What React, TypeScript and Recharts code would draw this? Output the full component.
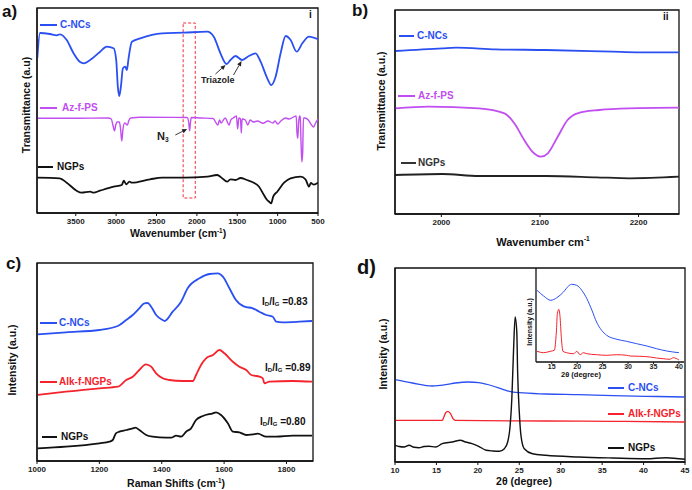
import React from 'react';
import { LineChart, Line, XAxis, YAxis, ReferenceArea, ReferenceLine } from 'recharts';

const FONT = "'Liberation Sans', Arial, Helvetica, sans-serif";
const BLUE = '#2b50f2';
const PURPLE = '#c14ef0';
const RED = '#f4232c';
const BLACK = '#111111';

type Pt = [number, number];

// a) FTIR, wavenumber vs transmittance (a.u.)
const A_CNCS: Pt[] = [
  [3976, 155], [3943, 180], [3819, 179], [3736, 177.7], [3695, 178.7], [3612, 173], [3529, 160],
  [3446, 151], [3405, 149.7], [3322, 153], [3198, 161.3], [3115, 166.3], [3032, 164.7], [2999, 153],
  [2979, 126.3], [2962, 117], [2941, 126.3], [2916, 144.7], [2887, 146.3], [2867, 143], [2846, 154.7],
  [2805, 171.3], [2701, 174.7], [2432, 179.7], [2163, 180.3], [1873, 181.3], [1791, 176.3], [1708, 159.7],
  [1633, 149], [1584, 153], [1522, 157], [1439, 153], [1356, 157], [1273, 159.7], [1211, 151.3],
  [1128, 134.7], [1079, 128], [1025, 136.3], [963, 159.7], [900, 177], [839, 173], [764, 161.3],
  [694, 169.7], [611, 176.3], [500, 173.7],
];
const A_AZPS: Pt[] = [
  [3976, 94.7], [3500, 94.7], [3100, 95], [3060, 94], [3040, 88], [3020, 82], [3005, 88], [2990, 91],
  [2960, 91], [2945, 84], [2930, 72], [2915, 84], [2895, 90], [2860, 88], [2845, 92], [2820, 95],
  [2700, 95.7], [2120, 95.5], [2100, 90], [2090, 82.3], [2080, 90], [2070, 95.5], [1950, 95],
  [1800, 94.5], [1740, 88], [1720, 93], [1700, 90], [1650, 95], [1600, 88], [1580, 93], [1550, 95],
  [1510, 97], [1495, 84], [1480, 95], [1460, 94], [1450, 80], [1440, 94], [1400, 93], [1370, 88],
  [1340, 93], [1300, 91], [1250, 92], [1180, 89.7], [1120, 92], [1060, 90], [1030, 92], [1000, 89],
  [960, 92], [900, 95], [860, 94], [770, 97], [760, 80], [750, 74.7], [740, 90], [730, 97], [720, 96],
  [710, 70], [700, 51], [690, 60], [680, 95], [660, 95], [620, 93], [580, 88], [555, 86], [530, 90],
  [500, 94],
];
const A_NGPS: Pt[] = [
  [3976, 35.3], [3700, 34.7], [3612, 30.3], [3490, 22.3], [3430, 20.3], [3320, 21.3], [3280, 20.3],
  [3200, 22.3], [3030, 26.3], [2930, 28], [2905, 32.3], [2875, 28.7], [2835, 31.3], [2805, 30.3],
  [2580, 33.7], [2430, 35.3], [2160, 35.3], [1870, 36.3], [1750, 38], [1710, 36.3], [1625, 31.3],
  [1585, 33.7], [1520, 33], [1460, 35], [1380, 33], [1295, 30.3], [1230, 26.3], [1170, 18], [1130, 13],
  [1105, 11.3], [1080, 9.7], [1055, 16.3], [1005, 21.3], [920, 30.3], [840, 34.7], [715, 36.3],
  [655, 33.7], [610, 26.3], [590, 30], [550, 28.3], [500, 30.3],
];
const A_TICKS = [3500, 3000, 2500, 2000, 1500, 1000, 500];

// b) FTIR zoom around the azide band
const B_CNCS: Pt[] = [
  [1953, 163], [2001, 165.7], [2015, 166.3], [2055, 164.7], [2106, 164], [2174, 162.3], [2198, 161.7], [2241, 161.7],
];
const B_AZPS: Pt[] = [
  [1953, 105.7], [1987, 107.3], [2038, 105.7], [2064, 100.7], [2074, 90.7], [2084, 74], [2094, 60.7],
  [2101, 57.3], [2108, 60.7], [2118, 77.3], [2128, 94], [2138, 100.7], [2160, 104], [2190, 105.7], [2241, 106.3],
];
const B_NGPS: Pt[] = [
  [1953, 39], [2001, 40], [2038, 38], [2106, 38], [2157, 36.7], [2191, 35.7], [2241, 37.3],
];
const B_TICKS = [2000, 2100, 2200];

// c) Raman
const C_CNCS: Pt[] = [
  [1002, 126.7], [1093, 128.7], [1200, 131], [1259, 135], [1286, 141], [1307, 146], [1328, 152.7],
  [1344, 157.7], [1355, 158], [1366, 154.3], [1382, 146], [1403, 141], [1409, 140], [1435, 149.3],
  [1462, 159.3], [1483, 172.7], [1521, 182.7], [1553, 187], [1580, 187.7], [1596, 184.3], [1617, 172.7],
  [1638, 161], [1665, 154.3], [1692, 152.7], [1713, 149.3], [1735, 146], [1756, 144.3], [1767, 139.3],
  [1788, 138.7], [1842, 139.3], [1882, 140],
];
const C_ALK: Pt[] = [
  [1002, 66], [1093, 69.3], [1200, 72.7], [1259, 74.3], [1286, 81], [1307, 84.3], [1328, 91], [1349, 96.7],
  [1366, 94.3], [1382, 87.7], [1403, 82.7], [1424, 81], [1467, 80], [1500, 80], [1510, 86], [1526, 96],
  [1542, 102.7], [1564, 106], [1585, 111], [1601, 107.7], [1628, 99.3], [1649, 94.3], [1671, 91],
  [1687, 86], [1697, 85.3], [1713, 84.3], [1724, 82.7], [1729, 77.7], [1745, 79.3], [1820, 80], [1882, 79.3],
];
const C_NGPS: Pt[] = [
  [1002, 12.7], [1093, 14.3], [1200, 17.7], [1232, 19.3], [1243, 21], [1253, 27.7], [1264, 29.3],
  [1286, 31], [1307, 32.7], [1316, 33.3], [1328, 31], [1350, 26], [1371, 24.3], [1414, 23.3], [1430, 23.3],
  [1446, 25.3], [1462, 24.3], [1478, 29.3], [1494, 32.7], [1510, 41], [1532, 45], [1564, 47.7], [1574, 48.7],
  [1590, 46], [1612, 37.7], [1628, 29.3], [1649, 28.7], [1671, 26], [1692, 26.7], [1708, 27.3], [1735, 24.3],
  [1767, 24.3], [1820, 25.3], [1882, 25.3],
];
const C_TICKS = [1000, 1200, 1400, 1600, 1800];

// d) XRD
const D_CNCS: Pt[] = [
  [10, 82.3], [12.1, 79], [14.5, 76], [16.1, 77.3], [17.3, 79], [18.9, 80], [20.1, 79.3], [21.8, 76],
  [23, 72.7], [23.8, 70.7], [25, 69.3], [28.2, 68], [32.2, 67.3], [36.3, 66.3], [40.3, 65.7], [45, 65],
];
const D_ALK: Pt[] = [
  [10, 41.7], [15.7, 41.7], [15.9, 45], [16.1, 49], [16.4, 50.7], [16.7, 48.3], [17, 43.3], [17.3, 41.7],
  [28.2, 41], [36.3, 40.7], [45, 40],
];
const D_NGPS: Pt[] = [
  [10, 16.7], [10.5, 15.5], [11.1, 15], [11.7, 16.7], [12.3, 14.7], [12.9, 14.3], [13.5, 15.5], [14.1, 15.7],
  [14.9, 15], [15.7, 18.3], [16.9, 20], [17.9, 21.7], [18.5, 20], [19.3, 18.3], [20.1, 15.7], [21, 11.7],
  [21.8, 11], [22.6, 10.7], [23.2, 13.3], [23.6, 20], [23.9, 36.7], [24.1, 63.3], [24.3, 110], [24.5, 145],
  [24.7, 130], [24.8, 90], [25, 50], [25.2, 26.7], [25.6, 13.3], [26.6, 8.3], [28.2, 6.7], [32.2, 5],
  [36.3, 4], [40.3, 3.3], [42.7, 4.3], [45, 2.7],
];
const D_TICKS = [10, 15, 20, 25, 30, 35, 40, 45];

// d) inset
const I_CNCS: Pt[] = [
  [12.1, 71.7], [13.4, 66], [14.8, 61.7], [16, 64.3], [17.3, 70], [18.3, 76], [18.9, 77.7], [19.9, 76.7],
  [20.9, 71.7], [21.9, 63.3], [22.9, 51.7], [23.8, 40], [24.8, 31.7], [25.8, 26.7], [27.8, 22.7],
  [29.7, 20.7], [31.7, 18.3], [33.7, 16], [35.6, 13.3], [37.6, 11], [40, 9.3],
];
const I_ALK: Pt[] = [
  [12.1, 10.7], [13.4, 9.3], [14.7, 10.7], [15.5, 11.7], [15.9, 30], [16.1, 48.3], [16.4, 52.7],
  [16.6, 46.7], [16.9, 23.3], [17.2, 10.7], [17.9, 9.3], [19.3, 8.3], [19.9, 10.7], [20.6, 7.3],
  [21.2, 9.3], [21.9, 8.3], [23.8, 7.3], [25.8, 6.7], [27.8, 7.3], [29.7, 6.7], [30.4, 6], [32.3, 5.7],
  [34.3, 5], [35.6, 4], [36.9, 3.3], [38.2, 2.7], [38.9, 4.3], [40, 2],
];
const I_TICKS = [15, 20, 25, 30, 35, 40];

const toRows = (pts: Pt[]) => pts.map(([x, y]) => ({ x, y }));

type Series = { pts: Pt[]; color: string; w?: number };

const Arrow = (p: any) => {
  const { x1, y1, x2, y2 } = p;
  const ang = Math.atan2(y2 - y1, x2 - x1);
  const L = 5;
  const W = 2.2;
  const bx = x2 - L * Math.cos(ang);
  const by = y2 - L * Math.sin(ang);
  const nx = -Math.sin(ang) * W;
  const ny = Math.cos(ang) * W;
  return (
    <g>
      <line x1={x1} y1={y1} x2={bx} y2={by} stroke="#222" strokeWidth={0.9} />
      <polygon points={`${x2},${y2} ${bx + nx},${by + ny} ${bx - nx},${by - ny}`} fill="#222" />
    </g>
  );
};

const Panel: React.FC<any> = ({
  left, top, width, height, margin, yWidth, xHeight, xDomain, yDomain, xTicks,
  reversed = false, series, yTicks = true, box = true, tickFont = 8, tickSize = 3, tickMargin = 2, children,
}) => (
  <div style={{ position: 'absolute', left, top }}>
    <LineChart width={width} height={height} margin={margin}>
      {box && (
        <ReferenceArea
          x1={xDomain[0]} x2={xDomain[1]} y1={yDomain[0]} y2={yDomain[1]}
          fill="none" stroke={BLACK} strokeWidth={1.3} ifOverflow="visible"
        />
      )}
      <XAxis
        type="number" dataKey="x" domain={xDomain} ticks={xTicks} reversed={reversed}
        allowDataOverflow interval={0} height={xHeight} tickSize={tickSize} tickMargin={tickMargin}
        axisLine={{ stroke: BLACK, strokeWidth: 1.3 }} tickLine={{ stroke: BLACK }}
        tick={{ fontSize: tickFont, fontWeight: 700, fill: '#222', fontFamily: FONT }}
      />
      <YAxis
        type="number" dataKey="y" domain={yDomain} ticks={yDomain} width={yWidth}
        allowDataOverflow tick={false} tickSize={3}
        tickLine={yTicks ? { stroke: BLACK } : false}
        axisLine={{ stroke: BLACK, strokeWidth: 1.3 }}
      />
      {series.map((s: Series, i: number) => (
        <Line
          key={i} data={toRows(s.pts)} dataKey="y" type="monotone" stroke={s.color}
          strokeWidth={s.w ?? 1.8} dot={false} activeDot={false} isAnimationActive={false}
        />
      ))}
      {children}
    </LineChart>
  </div>
);

const Txt: React.FC<any> = ({ x, y, size = 10, color = BLACK, center = false, rotate = false, children }) => (
  <div
    style={{
      position: 'absolute', left: x, top: y, whiteSpace: 'nowrap', fontFamily: FONT, fontWeight: 700,
      fontSize: size, lineHeight: 1, color,
      transform: `translate(${center || rotate ? '-50%' : '0'}, -50%)${rotate ? ' rotate(-90deg)' : ''}`,
    }}
  >
    {children}
  </div>
);

const Leg: React.FC<any> = ({ x, y, w = 17, color, label, gap = 3 }) => (
  <>
    <div style={{ position: 'absolute', left: x, top: y - 0.75, width: w, height: 1.5, background: color }} />
    <Txt x={x + w + gap} y={y} color={color}>{label}</Txt>
  </>
);

const sup = { fontSize: '0.6em', verticalAlign: '0.7em' } as React.CSSProperties;
const sub = { fontSize: '0.6em', verticalAlign: '-0.3em' } as React.CSSProperties;

const IdIg: React.FC<any> = ({ x, y, v }) => (
  <Txt x={x} y={y}>
    I<span style={sub}>D</span>/I<span style={sub}>G</span> ={v}
  </Txt>
);

export default function App() {
  return (
    <div style={{ position: 'fixed', left: 0, top: 0, width: 692, height: 490, background: '#fff', overflow: 'hidden' }}>
      <Panel
        left={0} top={0} width={346} height={245} margin={{ top: 8, right: 28, bottom: 0, left: 0 }}
        yWidth={37} xHeight={32} xDomain={[500, 3980]} yDomain={[0, 205]} xTicks={A_TICKS} reversed
        series={[
          { pts: A_CNCS, color: BLUE },
          { pts: A_AZPS, color: PURPLE, w: 1.4 },
          { pts: A_NGPS, color: BLACK },
        ]}
      >
        <ReferenceArea
          x1={2170} x2={2020} y1={15} y2={190} fill="none" stroke="#f0303a"
          strokeWidth={1} strokeDasharray="3 2"
        />
        <ReferenceLine segment={[{ x: 1770, y: 139 }, { x: 1645, y: 148 }]} shape={Arrow} />
        <ReferenceLine segment={[{ x: 1546, y: 138 }, { x: 1447, y: 152 }]} shape={Arrow} />
        <ReferenceLine segment={[{ x: 2267, y: 78 }, { x: 2121, y: 84 }]} shape={Arrow} />
      </Panel>

      <Panel
        left={346} top={0} width={346} height={245} margin={{ top: 10, right: 13, bottom: 0, left: 0 }}
        yWidth={49} xHeight={31} xDomain={[1953, 2241]} yDomain={[0, 204]} xTicks={B_TICKS}
        series={[
          { pts: B_CNCS, color: BLUE },
          { pts: B_AZPS, color: PURPLE },
          { pts: B_NGPS, color: '#222' },
        ]}
      />

      <Panel
        left={0} top={245} width={346} height={245} margin={{ top: 18, right: 33, bottom: 0, left: 0 }}
        yWidth={37} xHeight={29} xDomain={[1000, 1885]} yDomain={[0, 198]} xTicks={C_TICKS} yTicks={false}
        series={[
          { pts: C_CNCS, color: BLUE },
          { pts: C_ALK, color: RED },
          { pts: C_NGPS, color: BLACK },
        ]}
      />

      <Panel
        left={346} top={245} width={346} height={245} margin={{ top: 23, right: 7, bottom: 0, left: 0 }}
        yWidth={49} xHeight={28} xDomain={[10, 45]} yDomain={[0, 194]} xTicks={D_TICKS} yTicks={false}
        series={[
          { pts: D_CNCS, color: BLUE, w: 1.3 },
          { pts: D_ALK, color: RED, w: 1.3 },
          { pts: D_NGPS, color: BLACK, w: 1.4 },
        ]}
      />

      <Panel
        left={520} top={262} width={170} height={125} margin={{ top: 6, right: 6, bottom: 0, left: 0 }}
        yWidth={16} xHeight={25} xDomain={[11.9, 41]} yDomain={[0, 94]} xTicks={I_TICKS} yTicks={false}
        box={false} tickFont={7} tickSize={2} tickMargin={0}
        series={[
          { pts: I_CNCS, color: BLUE, w: 1 },
          { pts: I_ALK, color: RED, w: 1 },
        ]}
      />

      {/* panel letters and tags */}
      <Txt x={2} y={11} size={17}>a)</Txt>
      <Txt x={352} y={10} size={17}>b)</Txt>
      <Txt x={6} y={263} size={17}>c)</Txt>
      <Txt x={357} y={267} size={20}>d)</Txt>
      <Txt x={309} y={15} size={10}>i</Txt>
      <Txt x={663} y={17} size={10}>ii</Txt>

      {/* legends */}
      <Leg x={40} y={25} color={BLUE} label="C-NCs" />
      <Leg x={40} y={108} color={PURPLE} label="Az-f-PS" gap={5} />
      <Leg x={38} y={167} w={15} color={BLACK} label="NGPs" gap={4} />

      <Leg x={399} y={36} w={15} color={BLUE} label="C-NCs" />
      <Leg x={398} y={96} color={PURPLE} label="Az-f-PS" />
      <Leg x={401} y={163} w={15} color="#333" label="NGPs" gap={2} />

      <Leg x={40} y={323} color={BLUE} label="C-NCs" gap={2} />
      <Leg x={40} y={382} color={RED} label="Alk-f-NGPs" gap={2} />
      <Leg x={42} y={437} w={15} color={BLACK} label="NGPs" gap={4} />

      <Leg x={608} y={388} w={16} color={BLUE} label="C-NCs" gap={4} />
      <Leg x={608} y={414} w={16} color={RED} label="Alk-f-NGPs" gap={4} />
      <Leg x={608} y={448} w={16} color={BLACK} label="NGPs" gap={4} />

      {/* annotations */}
      <Txt x={201} y={80} size={9} color="#222">Triazole</Txt>
      <Txt x={157} y={137} size={11} color="#222">
        N<span style={sub}>3</span>
      </Txt>
      <IdIg x={262} y={302} v="0.83" />
      <IdIg x={265} y={368} v="0.89" />
      <IdIg x={260} y={422} v="0.80" />

      {/* axis titles */}
      <Txt x={178} y={233} size={10.5} center>
        Wavenumber (cm<span style={sup}>-1</span>)
      </Txt>
      <Txt x={26} y={105} size={10.5} rotate>Transmittance (a.u)</Txt>
      <Txt x={543} y={242} size={11} center>
        Wavenumber cm<span style={sup}>-1</span>
      </Txt>
      <Txt x={381} y={101} size={10.5} rotate>Transmittance (a.u.)</Txt>
      <Txt x={176} y={483} size={10.5} center>
        Raman Shifts (cm<span style={sup}>-1</span>)
      </Txt>
      <Txt x={12} y={360} size={10.5} rotate>Intensity (a.u.)</Txt>
      <Txt x={524} y={481} size={10.5} center>2θ (degree)</Txt>
      <Txt x={383} y={354} size={10.5} rotate>Intensity (a.u.)</Txt>
      <Txt x={581} y={375} size={7.5} center>2θ (degree)</Txt>
      <Txt x={529} y={322} size={7} rotate>Intensity (a.u.)</Txt>
    </div>
  );
}
